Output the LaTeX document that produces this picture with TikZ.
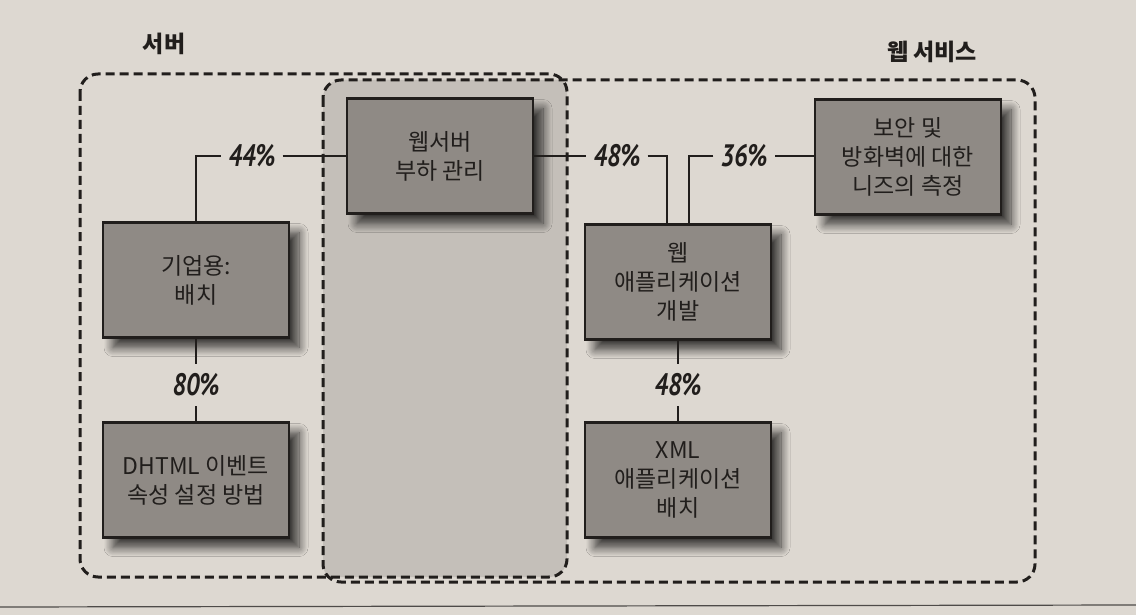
\documentclass[tikz,border=0pt]{standalone}
\usepackage{fontspec}
\setmainfont{Noto Sans CJK KR}
\newfontfamily\pctfont[FakeStretch=0.8]{PT Sans}
\usetikzlibrary{shadows.blur}
\definecolor{paper}{RGB}{221,216,209}
\definecolor{midfill}{RGB}{196,191,185}
\definecolor{boxfill}{RGB}{143,138,133}
\definecolor{ink}{RGB}{33,30,28}

\begin{document}
\begin{tikzpicture}[x=1pt, y=-1pt,
    box/.style={draw=ink, line width=2.5pt, fill=boxfill, minimum width=186pt, minimum height=115pt, align=center, text=ink, font=\fontsize{23}{29}\selectfont,
        blur shadow={shadow xshift=10pt, shadow yshift=-10pt, shadow blur radius=9pt, shadow blur steps=12, shadow opacity=75}},
    pct/.style={font=\pctfont\bfseries\itshape\fontsize{31}{31}\selectfont, text=ink, inner xsep=7pt, inner ysep=10pt},
    link/.style={draw=ink, line width=2.5pt},
    zone/.style={draw=ink, line width=3pt, dash pattern=on 9pt off 5pt, rounded corners=18pt},
    title/.style={font=\fontsize{23}{23}\selectfont\bfseries, text=ink}]
    \fill [paper] (0,0) rectangle (1136,615);
    \useasboundingbox (0,0) rectangle (1136,615);
    \begin{scope}
        \clip [rounded corners=18pt] (80,74) rectangle (567,577);
        \fill [midfill, rounded corners=18pt] (323,80) rectangle (1035,582);
    \end{scope}
    \draw [zone] (80,74) rectangle (567,577);
    \draw [zone] (323,80) rectangle (1035,582);
    \draw [ink!80, line width=1.2pt] (0,607) -- (1136,605);

    \node [title] (srv) at (164,44) {서버};
    \node [title] (ws) at (932,52) {웹 서비스};

    \node [box] (load) at (440,156) {웹서버\\부하 관리};
    \node [box] (corp) at (196,280) {기업용:\\배치};
    \node [box] (dhtml) at (196,480) {DHTML 이벤트\\속성 설정 방법};
    \node [box] (guard) at (908,157) {보안 및\\방화벽에 대한\\니즈의 측정};
    \node [box] (webapp) at (678,282) {웹\\애플리케이션\\개발};
    \node [box] (xmlapp) at (678,480) {XML\\애플리케이션\\배치};

    \node [pct] (p44) at (252,156) {44\%};
    \node [pct] (p48) at (617,156) {48\%};
    \node [pct] (p36) at (744,156) {36\%};
    \node [pct] (p80) at (196,385) {80\%};
    \node [pct] (p48b) at (678,385) {48\%};

    \draw [link] (corp.north) |- (p44.west);
    \draw [link] (p44.east) -- (load.west);
    \draw [link] (load.east) -- (p48.west);
    \draw [link] (p48.east) -| ([xshift=-11pt]webapp.north);
    \draw [link] (guard.west |- p36.east) -- (p36.east);
    \draw [link] (p36.west) -| ([xshift=11pt]webapp.north);
    \draw [link] (corp.south) -- (p80.north);
    \draw [link] (p80.south) -- (dhtml.north);
    \draw [link] (webapp.south) -- (p48b.north);
    \draw [link] (p48b.south) -- (xmlapp.north);
\end{tikzpicture}
\end{document}
